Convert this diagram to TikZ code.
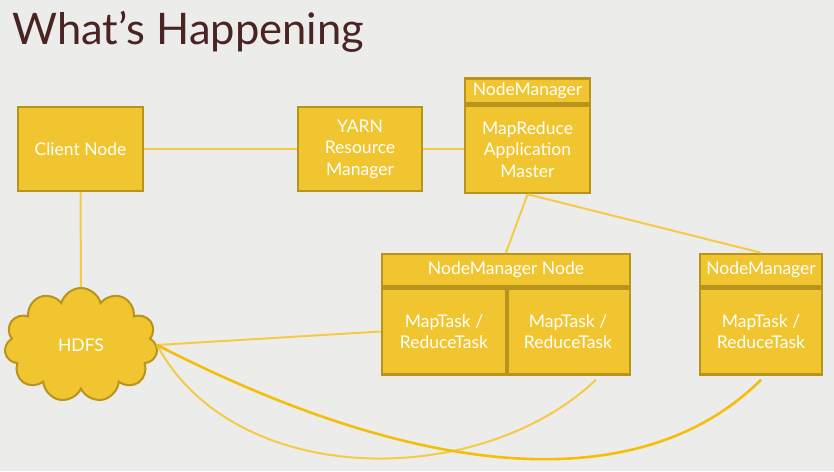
\documentclass[tikz,border=0pt]{standalone}
\usepackage{fontspec}
\setmainfont{Lato}
\usetikzlibrary{shapes.symbols}

\definecolor{slidebg}{RGB}{236,236,234}
\definecolor{boxfill}{RGB}{241,197,47}
\definecolor{boxedge}{RGB}{184,148,28}
\definecolor{wirelight}{RGB}{244,202,70}
\definecolor{wirebold}{RGB}{245,190,10}
\definecolor{titlebrown}{RGB}{74,35,35}

\tikzset{
  yarnbox/.style={fill=boxfill, draw=boxedge, line width=2.5pt, rectangle, text=white,
    align=center, inner sep=0pt, font=\fontsize{17.5}{21.5}\selectfont},
  sepline/.style={draw=boxedge, line width=4pt},
  wire/.style={draw=wirelight, line width=2pt},
  boldwire/.style={draw=wirebold, line width=2.6pt},
}

\begin{document}
\begin{tikzpicture}[x=1pt,y=-1pt]
  \fill[slidebg] (0,0) rectangle (834,471);
  \useasboundingbox (0,0) rectangle (834,471);
  \node[anchor=base west, inner sep=0pt, text=titlebrown, font=\fontsize{43.5}{50}\selectfont] (title) at (12,44) {What’s Happening};

  \node[yarnbox, minimum width=125pt, minimum height=84pt] (client) at (80.5,149) {Client Node};
  \node[yarnbox, minimum width=124pt, minimum height=84pt] (rm) at (360,149) {YARN\\Resource\\Manager};
  \node[yarnbox, minimum width=125pt, minimum height=25pt] (amhead) at (527.5,91) {NodeManager};
  \node[yarnbox, minimum width=125pt, minimum height=87pt, anchor=north] (am) at (amhead.south) {MapReduce\\Application\\Master};
  \draw[sepline] (am.north west) -- (am.north east);

  \node[yarnbox, minimum width=248pt, minimum height=32pt] (nmhead) at (506,270) {NodeManager Node};
  \node[yarnbox, minimum width=124pt, minimum height=86pt, anchor=north west] (taskA) at (nmhead.south west) {MapTask /\\ReduceTask};
  \node[yarnbox, minimum width=124pt, minimum height=86pt, anchor=north east] (taskB) at (nmhead.south east) {MapTask /\\ReduceTask};
  \draw[sepline] (taskA.north west) -- (taskB.north east);
  \draw[sepline] (taskA.north east) -- (taskA.south east);
  \node[yarnbox, minimum width=122pt, minimum height=32pt] (nmhead2) at (761,270) {NodeManager};
  \node[yarnbox, minimum width=122pt, minimum height=86pt, anchor=north] (taskC) at (nmhead2.south) {MapTask /\\ReduceTask};
  \draw[sepline] (taskC.north west) -- (taskC.north east);

  \node[cloud, cloud puffs=11, aspect=1.35, fill=boxfill, draw=boxedge, line width=2pt,
    minimum width=153pt, minimum height=114pt, text=white, font=\fontsize{17.5}{20}\selectfont] (hdfs) at (81,345) {HDFS};

  % connectors
  \draw[wire] (client) -- (rm);
  \draw[wire] (rm.east) -- (rm.east -| am.west);
  \draw[wire] (client.south) -- (hdfs.north);
  \draw[wire] (am.south) -- (nmhead.north);
  \draw[wire] (am.south) -- (nmhead2.north);
  \draw[wire] (hdfs.east) -- (taskA.west);
  \draw[wire] (hdfs.east) .. controls (235,490) and (480,490) .. ([xshift=28pt,yshift=-4pt]taskB.south);
  \draw[boldwire] (hdfs.east) .. controls (420,480) and (640,500) .. ([yshift=-4pt]taskC.south);
\end{tikzpicture}
\end{document}
